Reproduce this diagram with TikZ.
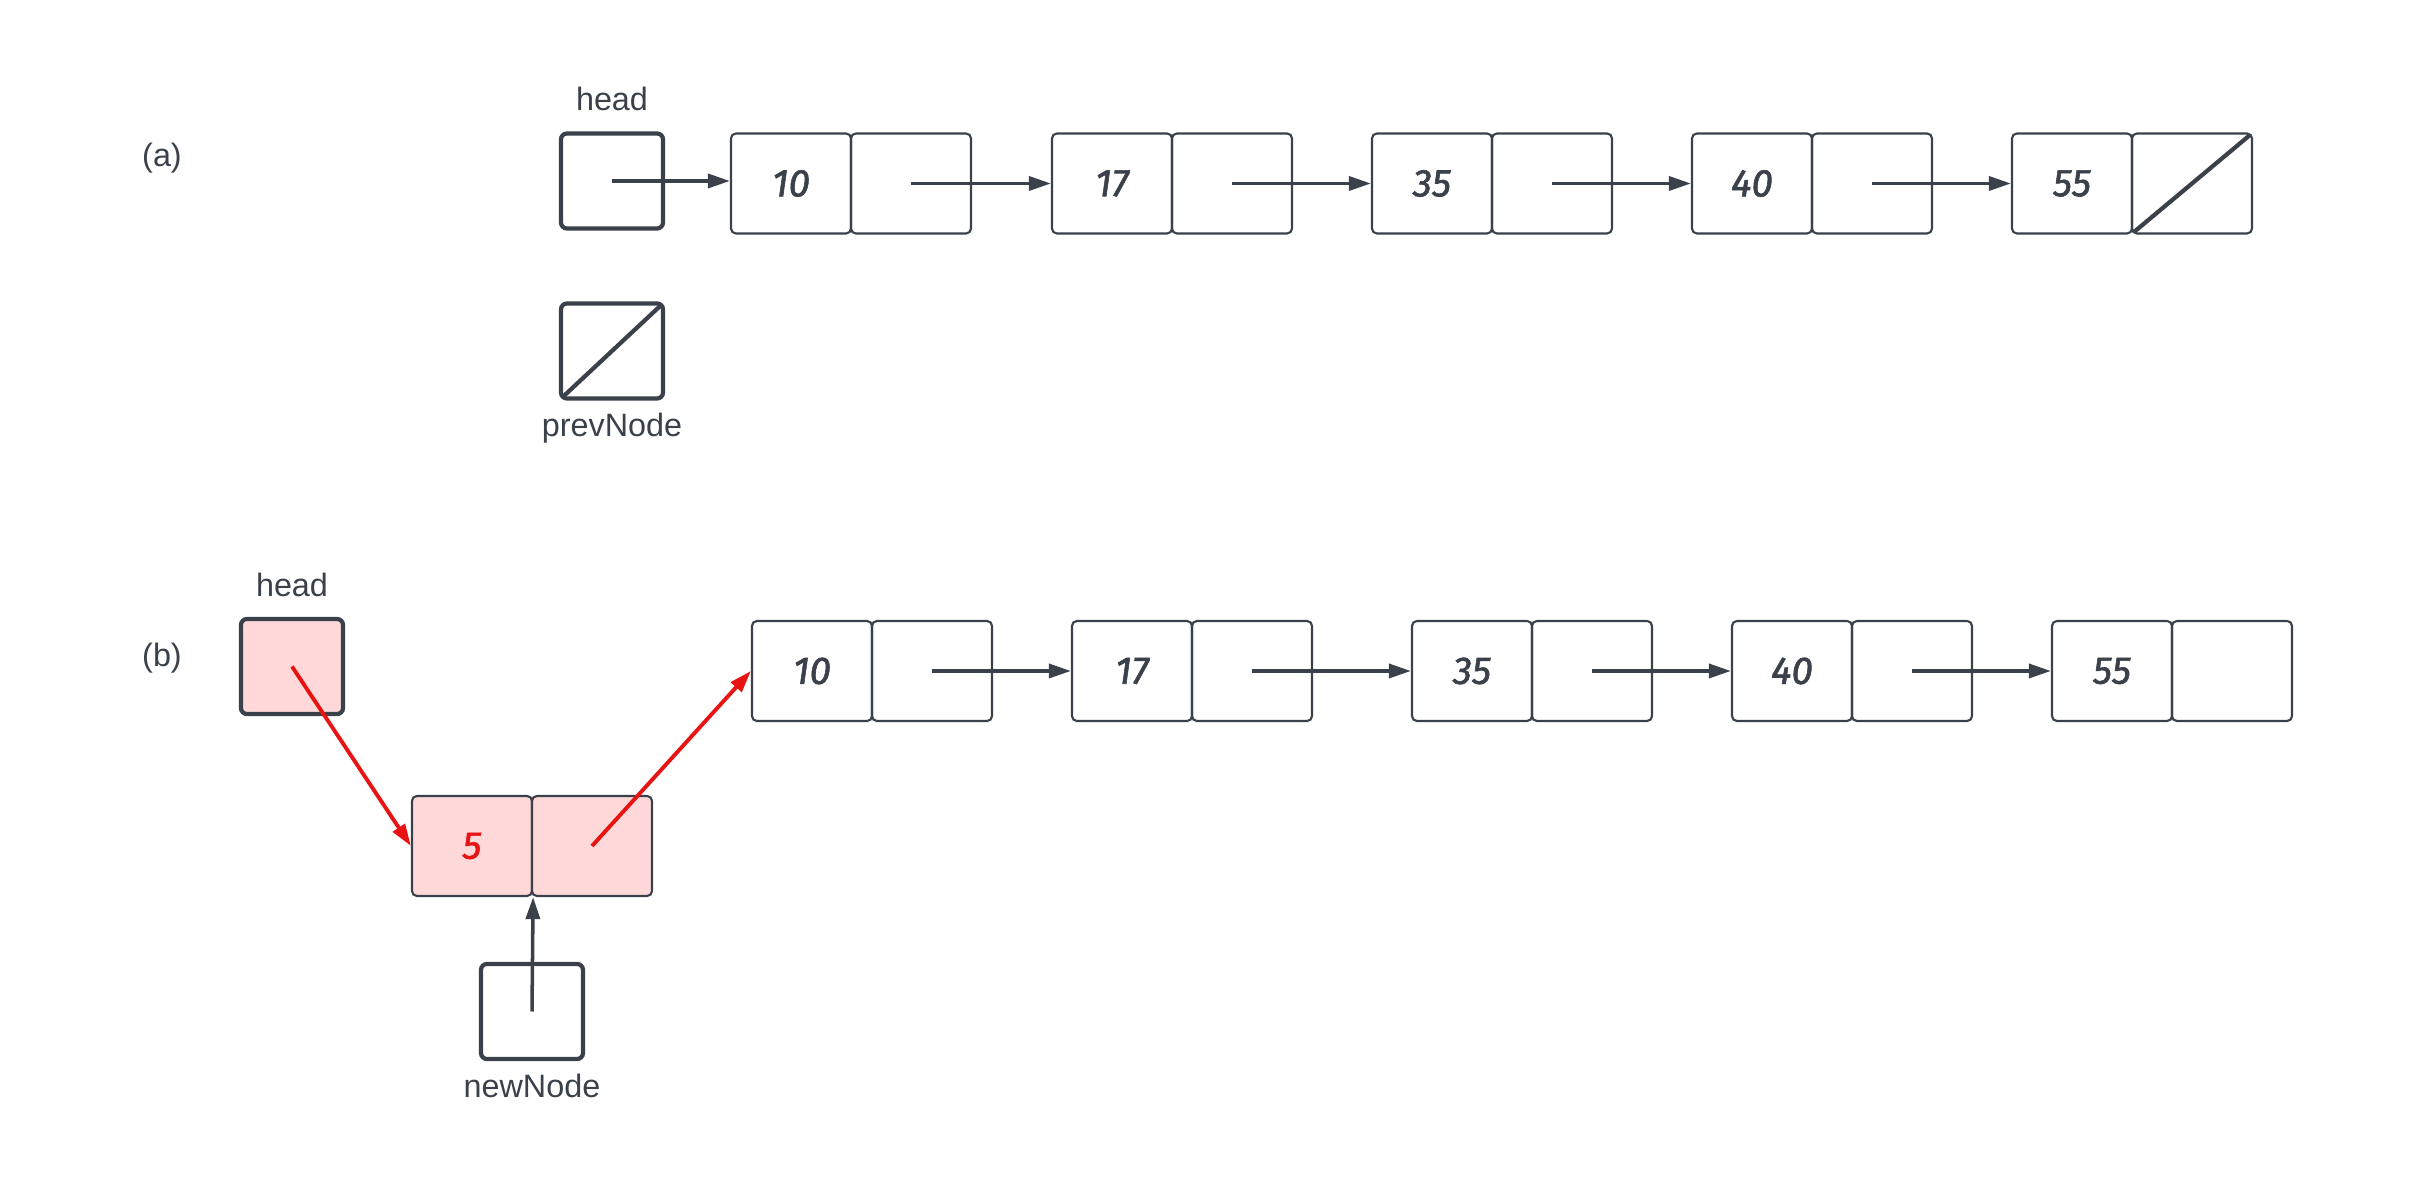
\documentclass[tikz,border=0pt]{standalone}
\usepackage{fontspec}
\setmainfont{Liberation Sans}
\newfontfamily\handfont[FakeBold=1.5]{Fira Sans}
\usetikzlibrary{arrows.meta}
\definecolor{ink}{HTML}{3A414A}
\definecolor{pinkfill}{HTML}{FFD9D9}
\definecolor{redline}{HTML}{E81313}
\tikzset{
  cell/.style={draw=ink,line width=0.6pt,rounded corners=0.05cm,minimum width=1.2cm,minimum height=1cm,inner sep=0pt,font=\handfont\itshape\fontsize{11}{13}\selectfont,text=ink},
  ptrbox/.style={draw=ink,line width=1.2pt,rounded corners=0.06cm,minimum width=1.02cm,minimum height=0.95cm,inner sep=0pt},
  lbl/.style={font=\fontsize{9.2}{11}\selectfont,text=ink,inner sep=0pt},
  arr/.style={draw=ink,line width=1pt,-{Triangle[length=0.22cm,width=0.14cm]}},
  redarr/.style={draw=redline,line width=1.1pt,-{Triangle[length=0.22cm,width=0.14cm]}},
  pinkbg/.style={fill=pinkfill},
  slash/.style={draw=ink,line width=1.2pt,shorten <=1.3pt,shorten >=1.3pt}
}
\begin{document}
\begin{tikzpicture}[x=0.01cm,y=-0.01cm]
\useasboundingbox (0,0) rectangle (2423,1201);
% labels
\node[lbl] (la) at (162,158) {(a)};
\node[lbl] (lb) at (162,658) {(b)};
% ---------- (a) ----------
\node[ptrbox] (ha) at (612,181) {};
\node[lbl,anchor=base] (hal) at (612,111) {head};
\node[ptrbox] (pv) at (612,351) {};
\node[lbl,anchor=base] (pvl) at (612,437) {prevNode};
\draw[slash] (pv.south west) -- (pv.north east);
\foreach \n/\x/\v in {1/791/10,2/1112/17,3/1432/35,4/1752/40,5/2072/55} {
  \node[cell] (ad\n) at (\x,183.5) {\v};
  \node[cell] (ap\n) at (\x+120,183.5) {};
}
\draw[arr] (ha.center) -- (ha.center -| ad1.west);
\foreach \i/\j in {1/2,2/3,3/4,4/5} {
  \draw[arr] (ap\i.center) -- (ad\j.west);
}
\draw[slash] (ap5.south west) -- (ap5.north east);
% ---------- (b) ----------
\node[ptrbox,pinkbg] (hb) at (292,666.5) {};
\node[lbl,anchor=base] (hbl) at (292,597) {head};
\node[cell,pinkbg,text=redline] (bd0) at (472,846) {5};
\node[cell,pinkbg] (bp0) at (592,846) {};
\foreach \n/\x/\v in {1/812/10,2/1132/17,3/1472/35,4/1792/40,5/2112/55} {
  \node[cell] (bd\n) at (\x,671) {\v};
  \node[cell] (bp\n) at (\x+120,671) {};
}
\foreach \i/\j in {1/2,2/3,3/4,4/5} {
  \draw[arr] (bp\i.center) -- (bd\j.west);
}
\node[ptrbox] (nn) at (532,1011.5) {};
\node[lbl,anchor=base] (nnl) at (532,1098) {newNode};
\draw[arr] (nn.center) -- (bd0.south east);
\draw[redarr] (hb.center) -- (bd0.west);
\draw[redarr] (bp0.center) -- (bd1.west);
\end{tikzpicture}
\end{document}
